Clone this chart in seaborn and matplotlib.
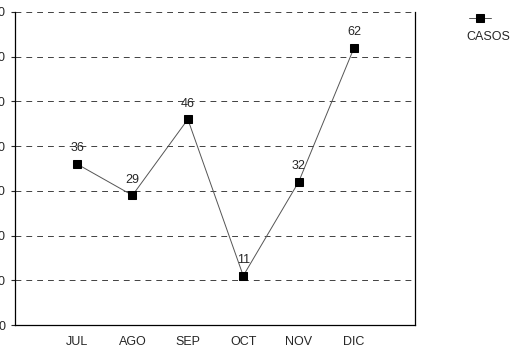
import matplotlib
matplotlib.use('Agg')
import matplotlib.pyplot as plt
import seaborn as sns
import pandas as pd

# data
meses = ['JUL', 'AGO', 'SEP', 'OCT', 'NOV', 'DIC']
casos = [36, 29, 46, 11, 32, 62]
y_ticks = [0, 10, 20, 30, 40, 50, 60, 70]

df = pd.DataFrame({'Mes': meses, 'Casos': casos})

sns.set_style('white')
plt.rcParams['font.family'] = ['Liberation Sans', 'DejaVu Sans']

fig = plt.figure(figsize=(5.13, 3.52), dpi=100)
ax = fig.add_axes([15 / 513, 27 / 352, 400 / 513, 313 / 352])

sns.lineplot(data=df, x='Mes', y='Casos', ax=ax, color='#555555', linewidth=0.7,
             marker='s', markersize=6, markerfacecolor='black', markeredgecolor='black',
             label='CASOS', sort=False)

# value labels above each point
for i, v in enumerate(casos):
    ax.annotate(str(v), (i, v), xytext=(0, 7), textcoords='offset points',
                ha='center', va='bottom', fontsize=9)

ax.set_xlim(-1.12, 6.1)
ax.set_ylim(1.5, 70)
ax.set_yticks(y_ticks)
ax.set_xlabel('')
ax.set_ylabel('')
ax.grid(True, axis='y', linestyle=(0, (7, 6)), color='#222222', linewidth=0.6)
ax.grid(False, axis='x')

for s in ['left', 'bottom', 'right']:
    ax.spines[s].set_visible(True)
    ax.spines[s].set_color('black')
    ax.spines[s].set_linewidth(0.9)
ax.spines['top'].set_visible(False)

ax.tick_params(axis='x', direction='out', length=4, width=0.8, pad=4, labelsize=9)
ax.tick_params(axis='y', direction='out', length=3, width=0.8, pad=4, labelsize=9, left=True)

# legend: marker with label under it, outside the axes
ax.legend_.remove()
handle = ax.get_lines()[0]
fig.legend([handle], [''], loc='center', bbox_to_anchor=(480 / 513, 1 - 19 / 352),
           frameon=False, handlelength=1.6, borderpad=0, handletextpad=0)
fig.text(488 / 513, 1 - 37 / 352, 'CASOS', ha='center', va='center', fontsize=9)

fig.savefig('out.png', dpi=100)
